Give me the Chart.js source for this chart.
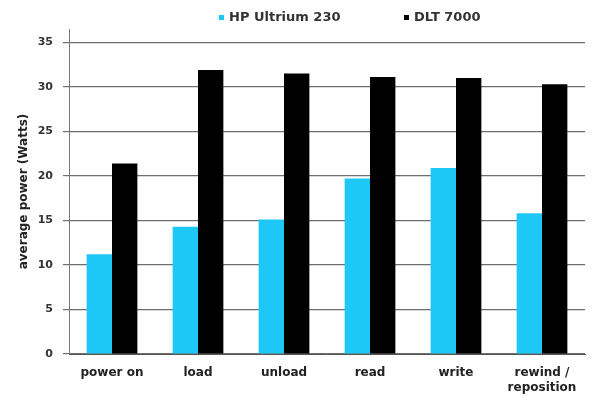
<!DOCTYPE html>
<html>
<head>
<meta charset="utf-8">
<script src="https://cdn.jsdelivr.net/npm/chart.js@4/dist/chart.umd.min.js"></script>
<style>
html,body{margin:0;padding:0;background:#fff;}
#wrap{width:592px;height:396px;position:relative;}
</style>
</head>
<body>
<div id="wrap"><canvas id="c" width="592" height="396"></canvas></div>
<script>
const categories = ["power on", "load", "unload", "read", "write", ["rewind /", "reposition"]];
const hpUltrium = [11.2, 14.3, 15.1, 19.7, 20.9, 15.8];
const dlt7000 = [21.4, 31.9, 31.5, 31.1, 31.0, 30.3];
const seriesNames = ["HP Ultrium 230", "DLT 7000"];
const yTicks = [0, 5, 10, 15, 20, 25, 30, 35];

const FONT = "'DejaVu Sans', Verdana, sans-serif";
Chart.defaults.font.family = FONT;
Chart.defaults.color = "#222";

// Legend drawn on the canvas from the dataset labels/colours, placed like the original
const topLegend = {
  id: "topLegend",
  afterDraw(chart) {
    const ctx = chart.ctx;
    const starts = [219, 404];
    const y = 18;
    ctx.save();
    ctx.font = "bold 13px " + FONT;
    ctx.textBaseline = "middle";
    chart.data.datasets.forEach((ds, i) => {
      const x = starts[i];
      ctx.fillStyle = ds.backgroundColor;
      ctx.fillRect(x, y - 3, 5, 5);
      ctx.fillStyle = "#333";
      ctx.fillText(ds.label, x + 10, y);
    });
    ctx.restore();
  }
};

new Chart(document.getElementById("c"), {
  type: "bar",
  data: {
    labels: categories,
    datasets: [
      { label: seriesNames[0], data: hpUltrium, backgroundColor: "#1ec8f6", categoryPercentage: 0.59, barPercentage: 1.0 },
      { label: seriesNames[1], data: dlt7000, backgroundColor: "#000000", categoryPercentage: 0.59, barPercentage: 1.0 }
    ]
  },
  plugins: [topLegend],
  options: {
    responsive: false,
    animation: false,
    layout: { padding: { left: 17, right: 7, top: 29, bottom: 0 } },
    plugins: {
      tooltip: { enabled: false },
      legend: { display: false }
    },
    scales: {
      x: {
        afterFit: (axis) => { axis.height = 42; },
        grid: { display: false, drawTicks: false },
        border: { color: "#555", width: 1 },
        ticks: { font: { size: 12, weight: "bold", family: FONT }, color: "#222", padding: 12, maxRotation: 0 }
      },
      y: {
        min: 0,
        max: 36.5,
        afterFit: (axis) => { axis.width = 52; },
        afterBuildTicks: (axis) => { axis.ticks = yTicks.map(v => ({ value: v })).concat([{ value: 36.5 }]); },
        ticks: {
          font: { size: 11, weight: "bold", family: FONT },
          color: "#333",
          padding: 10,
          callback: (v) => (yTicks.includes(v) ? String(v) : "")
        },
        grid: {
          color: (ctx) => (yTicks.includes(ctx.tick && ctx.tick.value) ? "#6e6e6e" : "rgba(0,0,0,0)"),
          tickLength: 6,
          tickColor: (ctx) => (yTicks.includes(ctx.tick && ctx.tick.value) ? "#6e6e6e" : "rgba(0,0,0,0)"),
          lineWidth: 1.2
        },
        border: { color: "#777", width: 1 },
        title: {
          display: true,
          text: "average power (Watts)",
          font: { size: 12, weight: "bold", family: FONT },
          color: "#222",
          padding: { top: 0, bottom: 0 }
        }
      }
    }
  }
});
</script>
</body>
</html>
